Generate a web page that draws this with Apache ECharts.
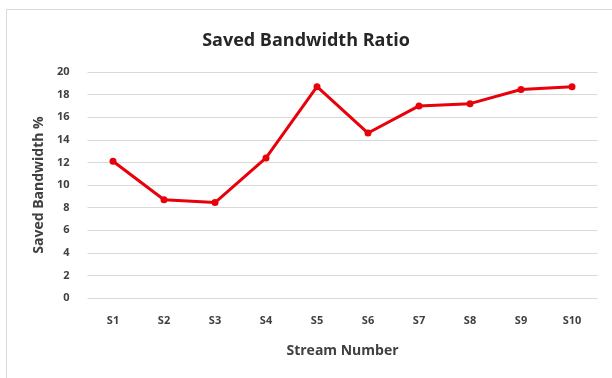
<!DOCTYPE html>
<html>
<head>
<meta charset="utf-8">
<script src="https://cdn.jsdelivr.net/npm/echarts@6/dist/echarts.min.js"></script>
<style>
  html, body { margin: 0; padding: 0; background: #fff; }
  #chart { width: 612px; height: 378px; }
</style>
</head>
<body>
<div id="chart"></div>
<script>
// data
var streams = ['S1', 'S2', 'S3', 'S4', 'S5', 'S6', 'S7', 'S8', 'S9', 'S10'];
var savedRatio = [12.1, 8.7, 8.45, 12.4, 18.7, 14.6, 17.0, 17.2, 18.45, 18.7];

var chartDom = document.getElementById('chart');
var myChart = echarts.init(chartDom);
var option;

option = {
  backgroundColor: '#fff',
  animation: false,
  textStyle: { fontFamily: 'Open Sans' },
  graphic: [
    {
      type: 'rect',
      shape: { x: 6.5, y: 9.5, width: 640, height: 400 },
      style: { fill: 'none', stroke: '#d9d9d9', lineWidth: 1 }
    }
  ],
  title: {
    text: 'Saved Bandwidth Ratio',
    left: 'center',
    top: 27,
    textStyle: {
      fontSize: 18,
      fontWeight: 'bold',
      color: '#262626',
      fontFamily: 'Open Sans'
    }
  },
  grid: {
    left: 87.5,
    right: 14.5,
    top: 72,
    bottom: 80
  },
  xAxis: {
    type: 'category',
    data: streams,
    name: 'Stream Number',
    nameLocation: 'middle',
    nameGap: 46,
    nameTextStyle: { fontSize: 14, fontWeight: 'bold', color: '#404040' },
    axisLine: { show: false },
    axisTick: { show: false },
    axisLabel: { fontSize: 11, fontWeight: 'bold', color: '#404040', margin: 17 }
  },
  yAxis: {
    type: 'value',
    min: 0,
    max: 20,
    interval: 2,
    name: 'Saved Bandwidth %',
    nameLocation: 'middle',
    nameGap: 41,
    nameTextStyle: { fontSize: 14, fontWeight: 'bold', color: '#404040' },
    axisLabel: { fontSize: 11, fontWeight: 'bold', color: '#404040', margin: 18 },
    splitLine: { lineStyle: { color: '#d9d9d9', width: 1 } }
  },
  series: [
    {
      name: 'Saved Bandwidth Ratio',
      type: 'line',
      data: savedRatio,
      symbol: 'circle',
      symbolSize: 7,
      lineStyle: { color: '#e8000b', width: 3 },
      itemStyle: { color: '#e8000b' }
    }
  ]
};

option && myChart.setOption(option);
</script>
</body>
</html>
